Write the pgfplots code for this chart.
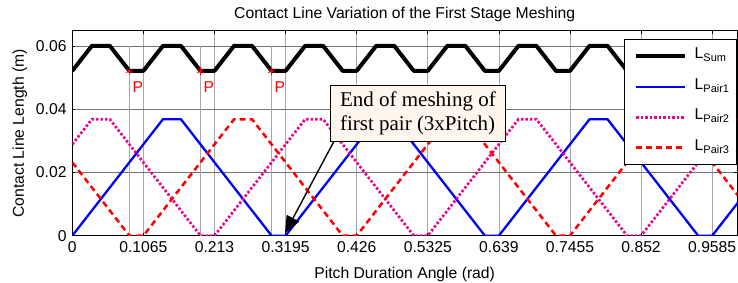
\documentclass[border=0pt]{standalone}
\usepackage{fontspec}
\setmainfont{Liberation Sans}
\newfontfamily\seriffont{Liberation Serif}
\usepackage{pgfplots}
\pgfplotsset{compat=1.18}
\usetikzlibrary{arrows.meta}
\definecolor{annbg}{RGB}{255,247,237}
\newcommand{\fs}{\fontsize{15.7}{18}\selectfont}
\begin{document}
\begin{tikzpicture}
\begin{axis}[
  at={(0,0)}, anchor=south west,
  scale only axis, width=664.7pt, height=204.7pt,
  xmin=0, xmax=0.9957, ymin=0, ymax=0.0647,
  xtick={0,0.1065,0.213,0.3195,0.426,0.5325,0.639,0.7455,0.852,0.9585},
  xticklabels={0,0.1065,0.213,0.3195,0.426,0.5325,0.639,0.7455,0.852,0.9585},
  ytick={0,0.02,0.04,0.06},
  yticklabels={0,0.02,0.04,0.06},
  scaled ticks=false,
  tick align=inside, tick pos=both,
  major tick length=3pt,
  tick style={black, line width=0.6pt},
  xmajorgrids, ymajorgrids,
  x grid style={black!35, line width=0.6pt},
  y grid style={black!55, line width=0.6pt},
  axis line style={black, line width=1pt},
  ticklabel style={font=\fs},
  xticklabel style={anchor=base, yshift=-17pt},
  yticklabel style={anchor=east, inner sep=0pt, xshift=-5.6pt},
  title={Contact Line Variation of the First Stage Meshing},
  title style={at={(axis description cs:0.5,1.030)}, anchor=base, font=\fs},
  xlabel={Pitch Duration Angle (rad)},
  xlabel style={at={(axis description cs:0.5,-0.2100)}, anchor=base, font=\fs},
  ylabel={Contact Line Length (m)},
  ylabel style={at={(axis description cs:-0.07267,0.5)}, anchor=base, rotate=0, font=\fs},
  legend style={at={(axis description cs:0.830,0.9595)}, anchor=north west,
     draw=black, line width=0.8pt, fill=white, font=\fs,
     inner xsep=7pt, inner ysep=8pt, row sep=13.5pt, column sep=7.3pt,
     nodes={inner sep=0pt, text height=11pt, text depth=6pt}},
  legend cell align=left,
  legend image code/.code={\path (0pt,0pt) rectangle (0pt,0pt); \draw[#1] (3pt,0pt)--(52pt,0pt);},
  clip mode=individual,
]
% vertical marker lines at the P points
\addplot[black!35, line width=0.6pt, forget plot] coordinates {(0.0855,0) (0.0855,0.06)};
\addplot[black!35, line width=0.6pt, forget plot] coordinates {(0.192,0) (0.192,0.06)};
\addplot[black!35, line width=0.6pt, forget plot] coordinates {(0.2985,0) (0.2985,0.06)};

\addplot[black, line width=4pt, line join=round] coordinates {
(0,0.0521) (0.02925,0.06) (0.05625,0.06) (0.0855,0.0521)
(0.1065,0.0521) (0.13575,0.06) (0.16275,0.06) (0.192,0.0521)
(0.213,0.0521) (0.24225,0.06) (0.26925,0.06) (0.2985,0.0521)
(0.3195,0.0521) (0.34875,0.06) (0.37575,0.06) (0.405,0.0521)
(0.426,0.0521) (0.45525,0.06) (0.48225,0.06) (0.5115,0.0521)
(0.5325,0.0521) (0.56175,0.06) (0.58875,0.06) (0.618,0.0521)
(0.639,0.0521) (0.66825,0.06) (0.69525,0.06) (0.7245,0.0521)
(0.7455,0.0521) (0.77475,0.06) (0.80175,0.06) (0.831,0.0521)
(0.852,0.0521) (0.88125,0.06) (0.90825,0.06) (0.9375,0.0521)
(0.9585,0.0521) (0.98775,0.06) (1.0,0.06)};
\addlegendentry{L\textsubscript{Sum}}

\addplot[blue, line width=2.3pt, line join=round] coordinates {
(0,0) (0.13575,0.0368) (0.16275,0.0368) (0.2985,0) (0.3195,0)
(0.45525,0.0368) (0.48225,0.0368) (0.618,0) (0.639,0)
(0.77475,0.0368) (0.80175,0.0368) (0.9375,0) (0.9585,0) (1.0,0.01125)};
\addlegendentry{L\textsubscript{Pair1}}

\addplot[magenta, line width=2.7pt, dash pattern=on 2.4pt off 2.1pt] coordinates {
(0,0.02887) (0.02925,0.0368) (0.05625,0.0368) (0.192,0) (0.213,0)
(0.34875,0.0368) (0.37575,0.0368) (0.5115,0) (0.5325,0)
(0.66825,0.0368) (0.69525,0.0368) (0.831,0) (0.852,0)
(0.98775,0.0368) (1.0,0.0368)};
\addlegendentry{L\textsubscript{Pair2}}

\addplot[red, line width=2.5pt, dash pattern=on 6pt off 4pt] coordinates {
(0,0.02318) (0.0855,0) (0.1065,0) (0.24225,0.0368) (0.26925,0.0368)
(0.405,0) (0.426,0) (0.56175,0.0368) (0.58875,0.0368) (0.7245,0)
(0.7455,0) (0.88125,0.0368) (0.90825,0.0368) (1.0,0.01193)};
\addlegendentry{L\textsubscript{Pair3}}

\addplot[red, only marks, mark=asterisk, mark size=4pt, line width=0.7pt, forget plot] coordinates {
(0.0855,0.0521) (0.192,0.0521) (0.2985,0.0521)};

\node[red, font=\fs, inner sep=0pt] at (axis cs:0.0981,0.04708) {P};
\node[red, font=\fs, inner sep=0pt] at (axis cs:0.2046,0.04708) {P};
\node[red, font=\fs, inner sep=0pt] at (axis cs:0.3111,0.04708) {P};

\draw[-{Triangle[length=17pt,width=14pt]}, line width=1.4pt, black]
  (axis cs:0.40,0.033) -- (axis cs:0.3186,0.0008);
\node[draw=black, line width=0.8pt, fill=annbg, font=\seriffont\fontsize{21}{24}\selectfont,
  align=left, minimum width=175.7pt, minimum height=56.7pt, inner xsep=8pt, inner ysep=2pt]
  at (axis cs:0.5177,0.03864) {End of meshing of\\first pair (3xPitch)};
\end{axis}
\pgfresetboundingbox
\useasboundingbox (-72.3pt,-47.3pt) rectangle (665.7pt,235.7pt);
\end{tikzpicture}
\end{document}
